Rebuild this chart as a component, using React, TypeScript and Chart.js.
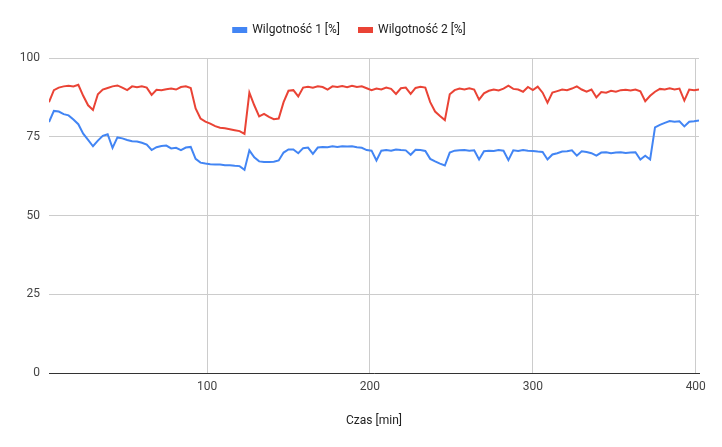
import { useEffect, useRef } from 'react'
import Chart from 'chart.js/auto'
import type { ChartConfiguration, Plugin } from 'chart.js'

// sample times, minutes
const minutes = [
  3, 6, 9, 12, 15, 18, 21, 24, 27, 30,
  33, 36, 39, 42, 45, 48, 51, 54, 57, 60,
  63, 66, 69, 72, 75, 78, 81, 84, 87, 90,
  93, 96, 99, 102, 105, 108, 111, 114, 117, 120,
  123, 126, 129, 132, 135, 138, 141, 144, 147, 150,
  153, 156, 159, 162, 165, 168, 171, 174, 177, 180,
  183, 186, 189, 192, 195, 198, 201, 204, 207, 210,
  213, 216, 219, 222, 225, 228, 231, 234, 237, 240,
  243, 246, 249, 252, 255, 258, 261, 264, 267, 270,
  273, 276, 279, 282, 285, 288, 291, 294, 297, 300,
  303, 306, 309, 312, 315, 318, 321, 324, 327, 330,
  333, 336, 339, 342, 345, 348, 351, 354, 357, 360,
  363, 366, 369, 372, 375, 378, 381, 384, 387, 390,
  393, 396, 399, 402,
]

// Wilgotność 1 [%]
const humidity1 = [
  79.7, 83.2, 83.0, 82.2, 81.8, 80.5, 79.0, 76.0, 74.0, 72.0,
  73.8, 75.3, 75.8, 71.5, 74.8, 74.5, 74.0, 73.6, 73.5, 73.1,
  72.5, 70.8, 71.7, 72.1, 72.2, 71.3, 71.5, 70.8, 71.6, 71.8,
  68.0, 66.8, 66.5, 66.3, 66.2, 66.2, 66.0, 66.0, 65.8, 65.7,
  64.5, 70.7, 68.5, 67.2, 67.0, 67.0, 67.1, 67.5, 70.0, 71.0,
  71.0, 69.8, 71.4, 71.6, 69.6, 71.6, 71.8, 71.7, 72.0, 71.8,
  72.0, 71.9, 72.0, 71.7, 71.5, 70.8, 70.6, 67.5, 70.6, 70.8,
  70.6, 71.0, 70.8, 70.7, 69.3, 70.9, 70.8, 70.5, 68.0, 67.2,
  66.5, 65.9, 70.0, 70.6, 70.7, 70.8, 70.6, 70.7, 67.8, 70.4,
  70.6, 70.5, 70.8, 70.6, 67.6, 70.7, 70.5, 70.8, 70.6, 70.5,
  70.3, 70.2, 67.8, 69.4, 69.8, 70.3, 70.4, 70.7, 69.0, 70.4,
  70.2, 69.8, 69.0, 70.0, 70.1, 69.8, 70.0, 70.1, 69.9, 70.0,
  70.1, 67.8, 69.0, 67.8, 78.0, 78.8, 79.4, 80.0, 79.8, 79.9,
  78.3, 79.8, 79.9, 80.2,
]

// Wilgotność 2 [%]
const humidity2 = [
  86.0, 89.8, 90.6, 91.0, 91.2, 91.0, 91.5, 88.0, 85.0, 83.5,
  88.5, 90.0, 90.5, 91.0, 91.3, 90.6, 89.8, 91.0, 90.7, 91.0,
  90.6, 88.3, 89.9, 89.8, 90.1, 90.3, 90.0, 90.8, 91.0, 90.5,
  84.0, 80.8, 79.8, 79.2, 78.4, 77.9, 77.7, 77.4, 77.1, 76.8,
  75.9, 89.0, 85.0, 81.5, 82.3, 81.3, 80.6, 80.8, 86.0, 89.6,
  89.8, 87.8, 90.6, 90.9, 90.6, 91.0, 90.8, 90.0, 91.0, 90.8,
  91.1, 90.7, 91.2, 90.8, 91.0, 90.4, 89.8, 90.3, 90.0, 90.6,
  90.2, 88.6, 90.4, 90.6, 88.6, 90.5, 90.9, 90.6, 86.0, 83.0,
  81.6, 80.3, 88.5, 89.8, 90.3, 90.0, 90.4, 90.0, 86.8, 88.8,
  89.6, 90.0, 89.7, 90.3, 91.2, 90.2, 90.0, 89.3, 90.8, 89.8,
  90.9, 89.0, 85.8, 89.0, 89.5, 90.0, 89.8, 90.3, 91.0, 90.0,
  89.3, 90.0, 87.5, 89.2, 89.0, 89.6, 89.3, 89.8, 89.9, 89.7,
  90.0, 89.4, 86.3, 88.0, 89.3, 90.2, 90.0, 90.4, 90.0, 90.3,
  86.5, 90.0, 89.8, 90.0,
]

const xTickValues = [100, 200, 300, 400]

// legend sits higher than chart.js puts it by default
const legendGap: Plugin<'line'> = {
  id: 'legendGap',
  beforeInit(chart) {
    const legend = chart.legend as any
    if (!legend) return
    const fit = legend.fit
    legend.fit = function () {
      fit.call(this)
      this.height += 12
    }
  },
}

export default function App() {
  const canvasRef = useRef<HTMLCanvasElement>(null)

  useEffect(() => {
    if (!canvasRef.current) return
    const ctx = canvasRef.current.getContext('2d')
    if (!ctx) return

    Chart.defaults.font.family = 'Roboto, Arial, sans-serif'

    const config: ChartConfiguration<'line'> = {
      type: 'line',
      data: {
        datasets: [
          {
            label: 'Wilgotność 1 [%]',
            data: minutes.map((m, i) => ({ x: m, y: humidity1[i] })),
            borderColor: '#4285F4',
            backgroundColor: '#4285F4',
            borderWidth: 2,
            pointRadius: 0,
            tension: 0,
          },
          {
            label: 'Wilgotność 2 [%]',
            data: minutes.map((m, i) => ({ x: m, y: humidity2[i] })),
            borderColor: '#EA4335',
            backgroundColor: '#EA4335',
            borderWidth: 2,
            pointRadius: 0,
            tension: 0,
          },
        ],
      },
      options: {
        responsive: true,
        maintainAspectRatio: false,
        animation: false,
        layout: { padding: { top: 5, right: 23, bottom: 19, left: 0 } },
        plugins: {
          legend: {
            position: 'top',
            labels: {
              font: { size: 12 },
              color: '#222',
              boxWidth: 13,
              boxHeight: 4,
              padding: 19,
            },
          },
          tooltip: { enabled: false },
        },
        scales: {
          x: {
            type: 'linear',
            min: 3,
            max: 402,
            afterBuildTicks: (scale) => {
              scale.ticks = xTickValues.map((v) => ({ value: v }))
            },
            ticks: {
              font: { size: 12 },
              color: '#444',
              padding: 7,
              maxRotation: 0,
            },
            grid: { color: '#ccc', drawTicks: false },
            border: { display: true, color: '#333', width: 1 },
            title: {
              display: true,
              text: 'Czas [min]',
              font: { size: 12 },
              color: '#222',
              padding: { top: 12, bottom: 0 },
            },
          },
          y: {
            min: 0,
            max: 100,
            afterFit: (scale) => {
              scale.width = 49
            },
            ticks: {
              stepSize: 25,
              font: { size: 12 },
              color: '#444',
              padding: 9,
            },
            grid: { color: '#ccc', drawTicks: false },
            border: { display: false },
          },
        },
      },
      plugins: [legendGap],
    }

    const chart = new Chart(ctx, config)
    return () => chart.destroy()
  }, [])

  return (
    <div style={{ position: 'fixed', left: 0, top: 0, width: 722, height: 447, background: '#fff' }}>
      <canvas ref={canvasRef} />
    </div>
  )
}
